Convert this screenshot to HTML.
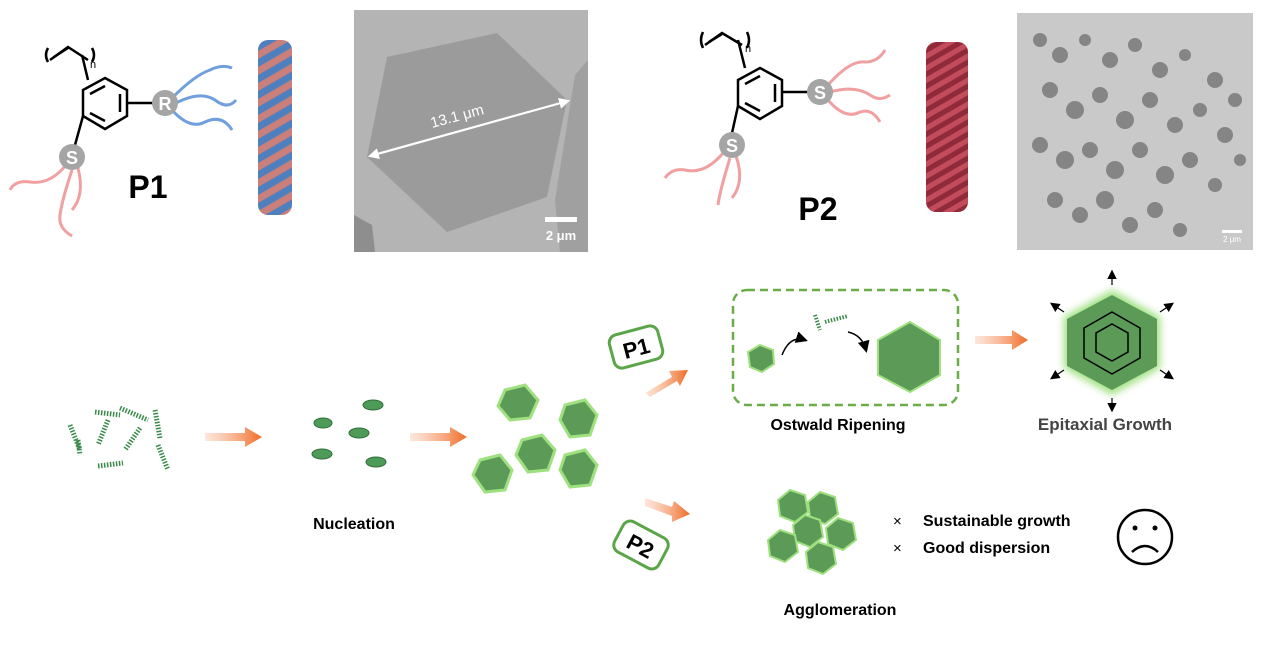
<!DOCTYPE html>
<html><head><meta charset="utf-8"><style>
html,body{margin:0;padding:0;background:#fff;}
svg{display:block;font-family:"Liberation Sans",Arial,sans-serif;}
</style></head><body>
<svg width="1268" height="647" viewBox="0 0 1268 647" xmlns="http://www.w3.org/2000/svg">
<defs>
<pattern id="hx1" width="34" height="16" patternUnits="userSpaceOnUse" patternTransform="skewY(-30)">
<rect width="34" height="8" fill="#4f7fbf"/><rect y="8" width="34" height="8" fill="#c97f7a"/>
</pattern>
<pattern id="hx2" width="44" height="12" patternUnits="userSpaceOnUse" patternTransform="skewY(-30)">
<rect width="44" height="6" fill="#c24b5c"/><rect y="6" width="44" height="6" fill="#8f2a3a"/>
</pattern>
<filter id="glow" x="-50%" y="-50%" width="200%" height="200%"><feGaussianBlur stdDeviation="4"/></filter>
<marker id="ah" markerWidth="8" markerHeight="8" refX="6" refY="4" orient="auto"><path d="M0,0 L8,4 L0,8 z" fill="#000"/></marker>
<marker id="ahw" markerWidth="5" markerHeight="5" refX="4" refY="2.5" orient="auto-start-reverse" markerUnits="strokeWidth"><path d="M0,0 L5,2.5 L0,5 z" fill="#fff"/></marker>
<linearGradient id="og" x1="0" x2="1"><stop offset="0" stop-color="#f7b08a" stop-opacity="0.3"/><stop offset="1" stop-color="#f06a24"/></linearGradient>
</defs>

<!-- P1 structure -->
<g stroke="#000" stroke-width="2.5" fill="none">
<path d="M48,48 Q44,55 48,62 M92,48 Q96,55 92,62"/>
<path d="M50,60 L68,47 L88,60"/><path d="M54,57 L68,48"/>
<path d="M82,55 L88,80"/>
<polygon points="105,78 127,90 127,116 105,129 83,116 83,90"/>
<path d="M90,94 L105,86 M120,94 L120,112 M90,113 L105,121"/>
<path d="M127,103 L155,103"/>
<path d="M83,116 L75,145"/>
</g>
<text x="90" y="68" font-size="11">n</text>
<g fill="none" stroke="#6fa0dd" stroke-width="3">
<path d="M172,98 Q195,75 210,70 Q222,64 232,68"/>
<path d="M174,104 Q200,90 215,100 Q228,110 236,100"/>
<path d="M172,110 Q190,130 205,122 Q222,114 232,130"/>
</g>
<g fill="none" stroke="#f0a0a0" stroke-width="3">
<path d="M66,165 Q50,185 30,182 Q15,180 10,190"/>
<path d="M72,170 Q62,200 60,215 Q58,228 72,236"/>
<path d="M78,168 Q85,195 72,210"/>
</g>
<circle cx="165" cy="103" r="13" fill="#a5a5a5"/><text x="165" y="110" font-size="18" fill="#fff" text-anchor="middle" font-weight="bold">R</text>
<circle cx="72" cy="157" r="13" fill="#a5a5a5"/><text x="72" y="164" font-size="18" fill="#fff" text-anchor="middle" font-weight="bold">S</text>
<text x="148" y="198" font-size="32" font-weight="bold" text-anchor="middle">P1</text>
<rect x="258" y="40" width="34" height="175" rx="10" fill="url(#hx1)"/>

<!-- TEM1 -->
<rect x="354" y="10" width="234" height="242" fill="#b4b4b4"/>
<polygon points="575,75 588,60 588,252 560,252 555,200" fill="#a0a0a0"/>
<polygon points="354,215 372,225 375,252 354,252" fill="#8e8e8e"/>
<polygon points="387,57 497,33 567,100 547,197 447,232 367,157" fill="#9b9b9b"/>
<line x1="370" y1="156" x2="568" y2="101" stroke="#fff" stroke-width="2.2" marker-start="url(#ahw)" marker-end="url(#ahw)"/>
<text x="432" y="128" font-size="15" fill="#fff" transform="rotate(-15 432 128)">13.1 μm</text>
<rect x="545" y="217" width="32" height="5" fill="#fff"/>
<text x="561" y="240" font-size="13" fill="#fff" text-anchor="middle" font-weight="bold">2 μm</text>

<!-- P2 structure -->
<g stroke="#000" stroke-width="2.5" fill="none">
<path d="M703,32 Q699,40 703,48 M747,32 Q751,40 747,48"/>
<path d="M705,45 L722,33 L742,45"/><path d="M709,42 L722,34"/>
<path d="M738,40 L745,68"/>
<polygon points="760,68 782,80 782,106 760,119 738,106 738,80"/>
<path d="M745,84 L760,76 M775,84 L775,102 M745,103 L760,111"/>
<path d="M782,92 L808,92"/>
<path d="M738,106 L732,133"/>
</g>
<text x="745" y="52" font-size="11">n</text>
<g fill="none" stroke="#f0a0a0" stroke-width="3">
<path d="M828,85 Q850,60 865,62 Q878,62 885,50"/>
<path d="M830,92 Q855,85 870,95 Q880,102 890,95"/>
<path d="M828,100 Q845,120 860,112 Q872,108 880,122"/>
<path d="M724,152 Q705,175 685,170 Q672,168 665,178"/>
<path d="M730,158 Q720,190 718,205"/>
<path d="M736,156 Q745,182 732,198"/>
</g>
<circle cx="820" cy="92" r="13" fill="#a5a5a5"/><text x="820" y="99" font-size="18" fill="#fff" text-anchor="middle" font-weight="bold">S</text>
<circle cx="732" cy="145" r="13" fill="#a5a5a5"/><text x="732" y="152" font-size="18" fill="#fff" text-anchor="middle" font-weight="bold">S</text>
<text x="818" y="220" font-size="32" font-weight="bold" text-anchor="middle">P2</text>
<rect x="926" y="42" width="42" height="170" rx="10" fill="url(#hx2)"/>

<!-- TEM2 -->
<rect x="1017" y="13" width="236" height="237" fill="#c9c9c9"/>
<g fill="#7a7a7a" opacity="0.85">
<circle cx="1040" cy="40" r="7"/><circle cx="1060" cy="55" r="8"/><circle cx="1085" cy="40" r="6"/><circle cx="1110" cy="60" r="8"/><circle cx="1135" cy="45" r="7"/><circle cx="1160" cy="70" r="8"/><circle cx="1185" cy="55" r="6"/><circle cx="1215" cy="80" r="8"/><circle cx="1235" cy="100" r="7"/>
<circle cx="1050" cy="90" r="8"/><circle cx="1075" cy="110" r="9"/><circle cx="1100" cy="95" r="8"/><circle cx="1125" cy="120" r="9"/><circle cx="1150" cy="100" r="8"/><circle cx="1175" cy="125" r="8"/><circle cx="1200" cy="110" r="7"/><circle cx="1225" cy="135" r="8"/>
<circle cx="1040" cy="145" r="8"/><circle cx="1065" cy="160" r="9"/><circle cx="1090" cy="150" r="8"/><circle cx="1115" cy="170" r="9"/><circle cx="1140" cy="150" r="8"/><circle cx="1165" cy="175" r="9"/><circle cx="1190" cy="160" r="8"/><circle cx="1215" cy="185" r="7"/>
<circle cx="1055" cy="200" r="8"/><circle cx="1080" cy="215" r="8"/><circle cx="1105" cy="200" r="9"/><circle cx="1130" cy="225" r="8"/><circle cx="1155" cy="210" r="8"/><circle cx="1180" cy="230" r="7"/><circle cx="1240" cy="160" r="6"/>
</g>
<rect x="1222" y="230" width="20" height="3" fill="#fff"/><text x="1232" y="242" font-size="8" fill="#fff" text-anchor="middle">2 μm</text>

<!-- bottom: helices -->
<g stroke="#3a8a4a" stroke-width="5" stroke-dasharray="1.5 1.5">
<line x1="70" y1="425" x2="80" y2="450"/><line x1="95" y1="412" x2="120" y2="415"/><line x1="120" y1="408" x2="148" y2="420"/><line x1="108" y1="420" x2="98" y2="445"/><line x1="155" y1="410" x2="160" y2="438"/><line x1="140" y1="428" x2="125" y2="450"/><line x1="158" y1="445" x2="168" y2="470"/><line x1="98" y1="466" x2="123" y2="463"/><line x1="78" y1="440" x2="80" y2="455"/>
</g>
<!-- arrows -->
<polygon points="205,433 245,433 245,427 262,437 245,447 245,441 205,441" fill="url(#og)"/>
<polygon points="410,433 450,433 450,427 467,437 450,447 450,441 410,441" fill="url(#og)"/>
<polygon points="975,336 1012,336 1012,330 1028,340 1012,350 1012,344 975,344" fill="url(#og)"/>
<polygon points="645,393 672,377 669,371 688,370 680,386 677,381 650,397" fill="url(#og)"/>
<polygon points="645,498 672,507 674,501 690,514 672,522 672,516 645,506" fill="url(#og)"/>
<!-- discs -->
<g fill="#4e9a58" stroke="#2f6e38" stroke-width="1">
<ellipse cx="323" cy="423" rx="9" ry="5"/><ellipse cx="373" cy="405" rx="10" ry="5"/><ellipse cx="359" cy="433" rx="10" ry="5"/><ellipse cx="322" cy="454" rx="10" ry="5"/><ellipse cx="376" cy="462" rx="10" ry="5"/>
</g>
<text x="354" y="529" font-size="16" font-weight="bold" text-anchor="middle">Nucleation</text>
<!-- hexagons -->
<g fill="#5c9a58" stroke="#9fe07f" stroke-width="3">
<polygon points="505,390 525,385 538,400 530,418 510,420 498,406"/>
<polygon points="565,405 585,400 597,415 590,435 570,437 560,420"/>
<polygon points="522,440 542,435 555,450 548,470 528,472 516,455"/>
<polygon points="480,460 500,455 512,470 505,490 485,492 473,475"/>
<polygon points="565,455 585,450 597,465 590,485 570,487 560,470"/>
</g>
<!-- P1 / P2 labels -->
<g transform="rotate(-15 636 347)"><rect x="611" y="330" width="50" height="34" rx="8" fill="#fff" stroke="#5aa548" stroke-width="3"/><text x="636" y="356" font-size="22" font-weight="bold" text-anchor="middle">P1</text></g>
<g transform="rotate(28 641 545)"><rect x="616" y="528" width="50" height="34" rx="8" fill="#fff" stroke="#5aa548" stroke-width="3"/><text x="641" y="554" font-size="22" font-weight="bold" text-anchor="middle">P2</text></g>
<!-- Ostwald box -->
<rect x="733" y="290" width="225" height="115" rx="14" fill="none" stroke="#6aac48" stroke-width="2.5" stroke-dasharray="8 5"/>
<polygon points="760,345 773,350 774,364 762,372 750,367 748,352" fill="#5c9a58" stroke="#9fe07f" stroke-width="2"/>
<polygon points="910,322 940,340 940,375 910,392 878,375 878,340" fill="#5c9a58" stroke="#9fe07f" stroke-width="2"/>
<path d="M782,355 Q790,335 805,340" fill="none" stroke="#000" stroke-width="1.5" marker-end="url(#ah)"/>
<path d="M848,332 Q862,335 866,350" fill="none" stroke="#000" stroke-width="1.5" marker-end="url(#ah)"/>
<g stroke="#3a8a4a" stroke-width="4" stroke-dasharray="1.5 1.5"><line x1="815" y1="315" x2="820" y2="330"/><line x1="825" y1="322" x2="848" y2="316"/></g>
<text x="838" y="430" font-size="16" font-weight="bold" text-anchor="middle">Ostwald Ripening</text>
<!-- Epitaxial -->
<polygon points="1112,290 1160,317 1160,368 1112,395 1064,368 1064,317" fill="#9fe07f" filter="url(#glow)"/>
<polygon points="1112,295 1157,319 1157,366 1112,390 1067,366 1067,319" fill="#5c9a58"/>
<polygon points="1112,312 1140,328 1140,358 1112,374 1084,358 1084,328" fill="none" stroke="#000" stroke-width="1.5"/>
<polygon points="1112,324 1128,333 1128,352 1112,361 1096,352 1096,333" fill="none" stroke="#000" stroke-width="1.5"/>
<g stroke="#000" stroke-width="1.2">
<line x1="1112" y1="285" x2="1112" y2="272" marker-end="url(#ah)"/><line x1="1112" y1="398" x2="1112" y2="410" marker-end="url(#ah)"/>
<line x1="1160" y1="312" x2="1172" y2="304" marker-end="url(#ah)"/><line x1="1160" y1="370" x2="1172" y2="378" marker-end="url(#ah)"/>
<line x1="1064" y1="312" x2="1052" y2="304" marker-end="url(#ah)"/><line x1="1064" y1="370" x2="1052" y2="378" marker-end="url(#ah)"/>
</g>
<text x="1105" y="430" font-size="17" font-weight="bold" fill="#444" text-anchor="middle">Epitaxial Growth</text>
<!-- Agglomeration -->
<g fill="#5c9a58" stroke="#9fe07f" stroke-width="2">
<polygon points="790,490 805,495 808,512 795,522 780,516 778,500"/>
<polygon points="820,492 835,497 838,514 825,524 810,518 808,502"/>
<polygon points="805,515 820,520 823,537 810,547 795,541 793,525"/>
<polygon points="838,518 853,523 856,540 843,550 828,544 826,528"/>
<polygon points="780,530 795,535 798,552 785,562 770,556 768,540"/>
<polygon points="818,542 833,547 836,564 823,574 808,568 806,552"/>
</g>
<text x="840" y="615" font-size="16" font-weight="bold" text-anchor="middle">Agglomeration</text>
<text x="893" y="526" font-size="15">×</text><text x="923" y="526" font-size="16" font-weight="bold">Sustainable growth</text>
<text x="893" y="553" font-size="15">×</text><text x="923" y="553" font-size="16" font-weight="bold">Good dispersion</text>
<circle cx="1145" cy="537" r="27" fill="none" stroke="#000" stroke-width="2.5"/>
<circle cx="1135" cy="528" r="2.5"/><circle cx="1155" cy="528" r="2.5"/>
<path d="M1132,552 Q1145,540 1158,552" fill="none" stroke="#000" stroke-width="2.5"/>
</svg>
</body></html>
